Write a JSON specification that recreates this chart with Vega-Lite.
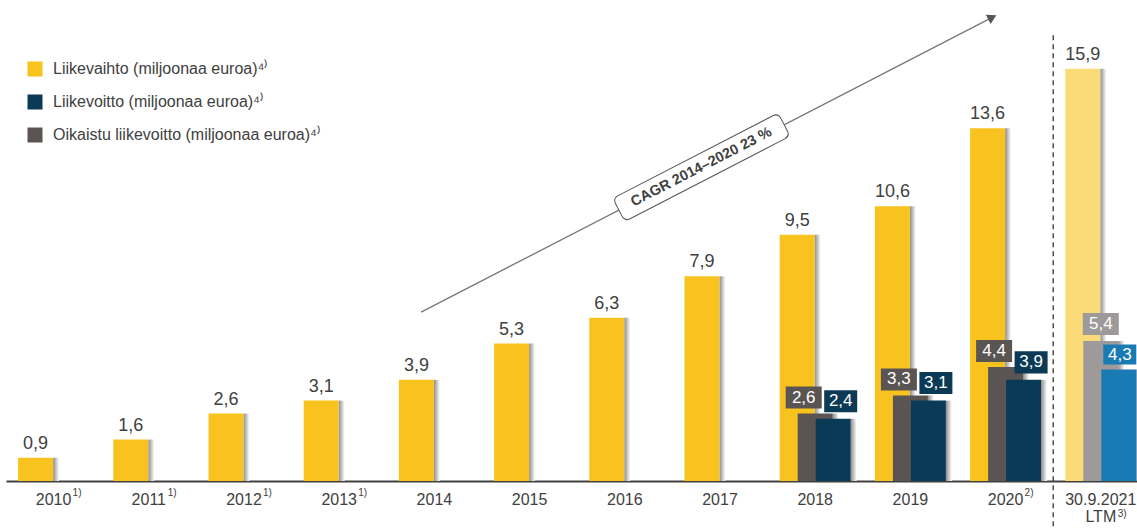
{
  "$schema": "https://vega.github.io/schema/vega-lite/v6.json",
  "width": 1137,
  "height": 481,
  "autosize": {"type": "none"},
  "padding": {"left": 0, "top": 0, "right": 0, "bottom": 48},
  "background": "white",
  "config": {
    "view": {"stroke": null},
    "font": "Liberation Sans",
    "locale": {"number": {"decimal": ",", "thousands": " ", "grouping": [3], "currency": ["", " €"]}}
  },
  "datasets": {
    "values": [
      {"cat": "2010", "series": "Liikevaihto (miljoonaa euroa)", "value": 0.9},
      {"cat": "2011", "series": "Liikevaihto (miljoonaa euroa)", "value": 1.6},
      {"cat": "2012", "series": "Liikevaihto (miljoonaa euroa)", "value": 2.6},
      {"cat": "2013", "series": "Liikevaihto (miljoonaa euroa)", "value": 3.1},
      {"cat": "2014", "series": "Liikevaihto (miljoonaa euroa)", "value": 3.9},
      {"cat": "2015", "series": "Liikevaihto (miljoonaa euroa)", "value": 5.3},
      {"cat": "2016", "series": "Liikevaihto (miljoonaa euroa)", "value": 6.3},
      {"cat": "2017", "series": "Liikevaihto (miljoonaa euroa)", "value": 7.9},
      {"cat": "2018", "series": "Liikevaihto (miljoonaa euroa)", "value": 9.5},
      {"cat": "2019", "series": "Liikevaihto (miljoonaa euroa)", "value": 10.6},
      {"cat": "2020", "series": "Liikevaihto (miljoonaa euroa)", "value": 13.6},
      {"cat": "LTM", "series": "Liikevaihto (miljoonaa euroa)", "value": 15.9},
      {"cat": "2018", "series": "Oikaistu liikevoitto (miljoonaa euroa)", "value": 2.6},
      {"cat": "2019", "series": "Oikaistu liikevoitto (miljoonaa euroa)", "value": 3.3},
      {"cat": "2020", "series": "Oikaistu liikevoitto (miljoonaa euroa)", "value": 4.4},
      {"cat": "LTM", "series": "Oikaistu liikevoitto (miljoonaa euroa)", "value": 5.4},
      {"cat": "2018", "series": "Liikevoitto (miljoonaa euroa)", "value": 2.4},
      {"cat": "2019", "series": "Liikevoitto (miljoonaa euroa)", "value": 3.1},
      {"cat": "2020", "series": "Liikevoitto (miljoonaa euroa)", "value": 3.9},
      {"cat": "LTM", "series": "Liikevoitto (miljoonaa euroa)", "value": 4.3}
    ],
    "cats": [
      {"cat": "2010", "label": "2010", "sup": "1)"},
      {"cat": "2011", "label": "2011", "sup": "1)"},
      {"cat": "2012", "label": "2012", "sup": "1)"},
      {"cat": "2013", "label": "2013", "sup": "1)"},
      {"cat": "2014", "label": "2014", "sup": ""},
      {"cat": "2015", "label": "2015", "sup": ""},
      {"cat": "2016", "label": "2016", "sup": ""},
      {"cat": "2017", "label": "2017", "sup": ""},
      {"cat": "2018", "label": "2018", "sup": ""},
      {"cat": "2019", "label": "2019", "sup": ""},
      {"cat": "2020", "label": "2020", "sup": "2)"},
      {"cat": "LTM", "label": "30.9.2021", "label2": "LTM", "sup": "3)"}
    ],
    "arrow": [{"cat": "2014", "cat2": "2020", "ya": 6.51, "yb": 17.88}],
    "head": [{"cat": "2020", "value": 17.88}],
    "cagr": [{"cat": "2017", "value": 12.1, "text": "CAGR 2014–2020 23 %"}]
  },
  "data": {"name": "values"},
  "encoding": {
    "x": {
      "field": "cat", "type": "nominal",
      "scale": {"domain": ["2010","2011","2012","2013","2014","2015","2016","2017","2018","2019","2020","LTM"], "range": [6, 1148.4], "paddingInner": 0, "paddingOuter": 0},
      "axis": {"title": null, "labels": false, "ticks": false, "grid": false, "domain": true, "domainColor": "#404040", "domainWidth": 2}
    }
  },
  "layer": [
    {
      "data": {"name": "cats"},
      "transform": [{"filter": "datum.cat === 'LTM'"}],
      "mark": {"type": "rule", "strokeDash": [5, 4], "color": "#333333", "strokeWidth": 1.3},
      "encoding": {
        "x": {"field": "cat", "type": "nominal", "bandPosition": 0},
        "y": {"datum": 17.19, "type": "quantitative", "scale": {"domain": [0, 18.55], "nice": false, "zero": true}, "axis": null},
        "y2": {"datum": -2}
      }
    },
    {
      "data": {"name": "arrow"},
      "mark": {"type": "rule", "color": "#777777", "strokeWidth": 1.3},
      "encoding": {
        "x": {"field": "cat", "type": "nominal", "bandPosition": 0.36},
        "x2": {"field": "cat2", "bandPosition": 0.36},
        "y": {"field": "ya", "type": "quantitative", "scale": {"domain": [0, 18.55], "nice": false, "zero": true}, "axis": null},
        "y2": {"field": "yb"}
      }
    },
    {
      "data": {"name": "head"},
      "mark": {"type": "point", "shape": "triangle-right", "filled": true, "opacity": 1, "size": 110, "angle": -27.3, "color": "#555555"},
      "encoding": {
        "x": {"field": "cat", "type": "nominal", "bandPosition": 0.36},
        "y": {"field": "value", "type": "quantitative", "scale": {"domain": [0, 18.55], "nice": false, "zero": true}, "axis": null}
      }
    },
    {
      "data": {"name": "cagr"},
      "mark": {"type": "point", "shape": "M-0.87,-0.13L0.87,-0.13Q0.93,-0.13 0.93,-0.07L0.93,0.07Q0.93,0.13 0.87,0.13L-0.87,0.13Q-0.93,0.13 -0.93,0.07L-0.93,-0.07Q-0.93,-0.13 -0.87,-0.13Z", "size": 40000, "angle": -27.3, "filled": true, "fill": "white", "stroke": "#555555", "strokeWidth": 1, "opacity": 1},
      "encoding": {
        "x": {"field": "cat", "type": "nominal", "bandPosition": 0.305},
        "y": {"field": "value", "type": "quantitative", "scale": {"domain": [0, 18.55], "nice": false, "zero": true}, "axis": null}
      }
    },
    {
      "data": {"name": "cagr"},
      "mark": {"type": "text", "angle": -27.3, "fontSize": 14.5, "fontWeight": "bold", "color": "#404040", "align": "center", "baseline": "middle"},
      "encoding": {
        "x": {"field": "cat", "type": "nominal", "bandPosition": 0.305},
        "y": {"field": "value", "type": "quantitative", "scale": {"domain": [0, 18.55], "nice": false, "zero": true}, "axis": null},
        "text": {"field": "text"}
      }
    },
    {
      "transform": [{"filter": "datum.series === 'Liikevaihto (miljoonaa euroa)'"}],
      "mark": {"type": "bar", "width": 6, "xOffset": 2.5, "fill": {"gradient": "linear", "x1": 0, "x2": 1, "y1": 0, "y2": 0, "stops": [{"offset": 0, "color": "#8c8c8c"}, {"offset": 1, "color": "#ffffff"}]}},
      "encoding": {"y": {"field": "value", "type": "quantitative", "scale": {"domain": [0, 18.55], "nice": false, "zero": true}, "axis": null}}
    },
    {
      "transform": [{"filter": "datum.series === 'Liikevaihto (miljoonaa euroa)'"}],
      "mark": {"type": "bar", "width": 35, "xOffset": -18},
      "encoding": {
        "y": {"field": "value", "type": "quantitative", "scale": {"domain": [0, 18.55], "nice": false, "zero": true}, "axis": null},
        "color": {
          "field": "series", "type": "nominal",
          "scale": {"domain": ["Liikevaihto (miljoonaa euroa)", "Liikevoitto (miljoonaa euroa)", "Oikaistu liikevoitto (miljoonaa euroa)"], "range": ["#F9C31F", "#0B3A56", "#5A5553"]},
          "legend": {"title": null, "orient": "none", "legendX": 27, "legendY": 61, "symbolType": "square", "symbolSize": 225, "symbolStrokeWidth": 0, "symbolOpacity": 1, "labelFontSize": 16, "labelColor": "#404040", "labelOffset": 10, "rowPadding": 17, "padding": 0, "labelLimit": 0, "labelExpr": "datum.label + '⁴⁾'"},
          "condition": {"test": "datum.cat === 'LTM'", "value": "#FBDA78"}
        }
      }
    },
    {
      "transform": [{"filter": "datum.series === 'Oikaistu liikevoitto (miljoonaa euroa)'"}],
      "mark": {"type": "bar", "width": 6, "xOffset": 20.5, "fill": {"gradient": "linear", "x1": 0, "x2": 1, "y1": 0, "y2": 0, "stops": [{"offset": 0, "color": "#8c8c8c"}, {"offset": 1, "color": "#ffffff"}]}},
      "encoding": {"y": {"field": "value", "type": "quantitative", "scale": {"domain": [0, 18.55], "nice": false, "zero": true}, "axis": null}}
    },
    {
      "transform": [{"filter": "datum.series === 'Oikaistu liikevoitto (miljoonaa euroa)'"}],
      "mark": {"type": "bar", "width": 35, "xOffset": 0},
      "encoding": {
        "y": {"field": "value", "type": "quantitative", "scale": {"domain": [0, 18.55], "nice": false, "zero": true}, "axis": null},
        "color": {
          "field": "series", "type": "nominal",
          "scale": {"domain": ["Liikevaihto (miljoonaa euroa)", "Liikevoitto (miljoonaa euroa)", "Oikaistu liikevoitto (miljoonaa euroa)"], "range": ["#F9C31F", "#0B3A56", "#5A5553"]},
          "legend": {"title": null, "orient": "none", "legendX": 27, "legendY": 61, "symbolType": "square", "symbolSize": 225, "symbolStrokeWidth": 0, "symbolOpacity": 1, "labelFontSize": 16, "labelColor": "#404040", "labelOffset": 10, "rowPadding": 17, "padding": 0, "labelLimit": 0, "labelExpr": "datum.label + '⁴⁾'"},
          "condition": {"test": "datum.cat === 'LTM'", "value": "#9E9A99"}
        }
      }
    },
    {
      "transform": [{"filter": "datum.series === 'Liikevoitto (miljoonaa euroa)'"}],
      "mark": {"type": "bar", "width": 6, "xOffset": 38.5, "fill": {"gradient": "linear", "x1": 0, "x2": 1, "y1": 0, "y2": 0, "stops": [{"offset": 0, "color": "#8c8c8c"}, {"offset": 1, "color": "#ffffff"}]}},
      "encoding": {"y": {"field": "value", "type": "quantitative", "scale": {"domain": [0, 18.55], "nice": false, "zero": true}, "axis": null}}
    },
    {
      "transform": [{"filter": "datum.series === 'Liikevoitto (miljoonaa euroa)'"}],
      "mark": {"type": "bar", "width": 35, "xOffset": 18},
      "encoding": {
        "y": {"field": "value", "type": "quantitative", "scale": {"domain": [0, 18.55], "nice": false, "zero": true}, "axis": null},
        "color": {
          "field": "series", "type": "nominal",
          "scale": {"domain": ["Liikevaihto (miljoonaa euroa)", "Liikevoitto (miljoonaa euroa)", "Oikaistu liikevoitto (miljoonaa euroa)"], "range": ["#F9C31F", "#0B3A56", "#5A5553"]},
          "legend": {"title": null, "orient": "none", "legendX": 27, "legendY": 61, "symbolType": "square", "symbolSize": 225, "symbolStrokeWidth": 0, "symbolOpacity": 1, "labelFontSize": 16, "labelColor": "#404040", "labelOffset": 10, "rowPadding": 17, "padding": 0, "labelLimit": 0, "labelExpr": "datum.label + '⁴⁾'"},
          "condition": {"test": "datum.cat === 'LTM'", "value": "#1A7AB4"}
        }
      }
    },
    {
      "transform": [{"filter": "datum.series === 'Liikevaihto (miljoonaa euroa)'"}],
      "mark": {"type": "text", "xOffset": -18, "dy": -9, "baseline": "alphabetic", "align": "center", "fontSize": 18, "color": "#404040"},
      "encoding": {
        "y": {"field": "value", "type": "quantitative", "scale": {"domain": [0, 18.55], "nice": false, "zero": true}, "axis": null},
        "text": {"field": "value", "format": ".1f"}
      }
    },
    {
      "transform": [{"filter": "datum.series === 'Oikaistu liikevoitto (miljoonaa euroa)' && datum.cat !== 'LTM'"}],
      "mark": {"type": "point", "shape": "M-1,-0.61L1,-0.61L1,0.61L-1,0.61Z", "size": 1296, "filled": true, "opacity": 1, "color": "#5A5553", "xOffset": -11.5, "yOffset": -16},
      "encoding": {"y": {"field": "value", "type": "quantitative", "scale": {"domain": [0, 18.55], "nice": false, "zero": true}, "axis": null}}
    },
    {
      "transform": [{"filter": "datum.series === 'Oikaistu liikevoitto (miljoonaa euroa)' && datum.cat !== 'LTM'"}],
      "mark": {"type": "text", "xOffset": -11.5, "yOffset": -16, "baseline": "middle", "align": "center", "fontSize": 17, "color": "white"},
      "encoding": {
        "y": {"field": "value", "type": "quantitative", "scale": {"domain": [0, 18.55], "nice": false, "zero": true}, "axis": null},
        "text": {"field": "value", "format": ".1f"}
      }
    },
    {
      "transform": [{"filter": "datum.series === 'Oikaistu liikevoitto (miljoonaa euroa)' && datum.cat === 'LTM'"}],
      "mark": {"type": "point", "shape": "M-1,-0.61L1,-0.61L1,0.61L-1,0.61Z", "size": 1296, "filled": true, "opacity": 1, "color": "#9E9A99", "xOffset": 0, "yOffset": -17},
      "encoding": {"y": {"field": "value", "type": "quantitative", "scale": {"domain": [0, 18.55], "nice": false, "zero": true}, "axis": null}}
    },
    {
      "transform": [{"filter": "datum.series === 'Oikaistu liikevoitto (miljoonaa euroa)' && datum.cat === 'LTM'"}],
      "mark": {"type": "text", "xOffset": 0, "yOffset": -17, "baseline": "middle", "align": "center", "fontSize": 17, "color": "white"},
      "encoding": {
        "y": {"field": "value", "type": "quantitative", "scale": {"domain": [0, 18.55], "nice": false, "zero": true}, "axis": null},
        "text": {"field": "value", "format": ".1f"}
      }
    },
    {
      "transform": [{"filter": "datum.series === 'Liikevoitto (miljoonaa euroa)' && datum.cat !== 'LTM'"}],
      "mark": {"type": "point", "shape": "M-1,-0.667L1,-0.667L1,0.667L-1,0.667Z", "size": 1089, "filled": true, "opacity": 1, "color": "#0B3A56", "xOffset": 25.5, "yOffset": -17.5},
      "encoding": {"y": {"field": "value", "type": "quantitative", "scale": {"domain": [0, 18.55], "nice": false, "zero": true}, "axis": null}}
    },
    {
      "transform": [{"filter": "datum.series === 'Liikevoitto (miljoonaa euroa)' && datum.cat !== 'LTM'"}],
      "mark": {"type": "text", "xOffset": 25.5, "yOffset": -17.5, "baseline": "middle", "align": "center", "fontSize": 17, "color": "white"},
      "encoding": {
        "y": {"field": "value", "type": "quantitative", "scale": {"domain": [0, 18.55], "nice": false, "zero": true}, "axis": null},
        "text": {"field": "value", "format": ".1f"}
      }
    },
    {
      "transform": [{"filter": "datum.series === 'Liikevoitto (miljoonaa euroa)' && datum.cat === 'LTM'"}],
      "mark": {"type": "point", "shape": "M-1,-0.6L1,-0.6L1,0.6L-1,0.6Z", "size": 1089, "filled": true, "opacity": 1, "color": "#1A7AB4", "xOffset": 19, "yOffset": -15},
      "encoding": {"y": {"field": "value", "type": "quantitative", "scale": {"domain": [0, 18.55], "nice": false, "zero": true}, "axis": null}}
    },
    {
      "transform": [{"filter": "datum.series === 'Liikevoitto (miljoonaa euroa)' && datum.cat === 'LTM'"}],
      "mark": {"type": "text", "xOffset": 19, "yOffset": -15, "baseline": "middle", "align": "center", "fontSize": 17, "color": "white"},
      "encoding": {
        "y": {"field": "value", "type": "quantitative", "scale": {"domain": [0, 18.55], "nice": false, "zero": true}, "axis": null},
        "text": {"field": "value", "format": ".1f"}
      }
    },
    {
      "data": {"name": "cats"},
      "mark": {"type": "text", "dy": 19, "baseline": "middle", "align": "center", "fontSize": 16, "color": "#404040"},
      "encoding": {
        "y": {"datum": 0, "type": "quantitative", "scale": {"domain": [0, 18.55], "nice": false, "zero": true}, "axis": null},
        "text": {"field": "label"}
      }
    },
    {
      "data": {"name": "cats"},
      "transform": [{"filter": "datum.cat !== 'LTM' && datum.sup !== ''"}],
      "mark": {"type": "text", "dx": 19, "dy": 12, "baseline": "middle", "align": "left", "fontSize": 10, "color": "#404040"},
      "encoding": {
        "y": {"datum": 0, "type": "quantitative", "scale": {"domain": [0, 18.55], "nice": false, "zero": true}, "axis": null},
        "text": {"field": "sup"}
      }
    },
    {
      "data": {"name": "cats"},
      "transform": [{"filter": "datum.cat === 'LTM'"}],
      "mark": {"type": "text", "dy": 36, "baseline": "middle", "align": "center", "fontSize": 16, "color": "#404040"},
      "encoding": {
        "y": {"datum": 0, "type": "quantitative", "scale": {"domain": [0, 18.55], "nice": false, "zero": true}, "axis": null},
        "text": {"field": "label2"}
      }
    },
    {
      "data": {"name": "cats"},
      "transform": [{"filter": "datum.cat === 'LTM'"}],
      "mark": {"type": "text", "dx": 17, "dy": 33, "baseline": "middle", "align": "left", "fontSize": 10, "color": "#404040"},
      "encoding": {
        "y": {"datum": 0, "type": "quantitative", "scale": {"domain": [0, 18.55], "nice": false, "zero": true}, "axis": null},
        "text": {"field": "sup"}
      }
    }
  ]
}
